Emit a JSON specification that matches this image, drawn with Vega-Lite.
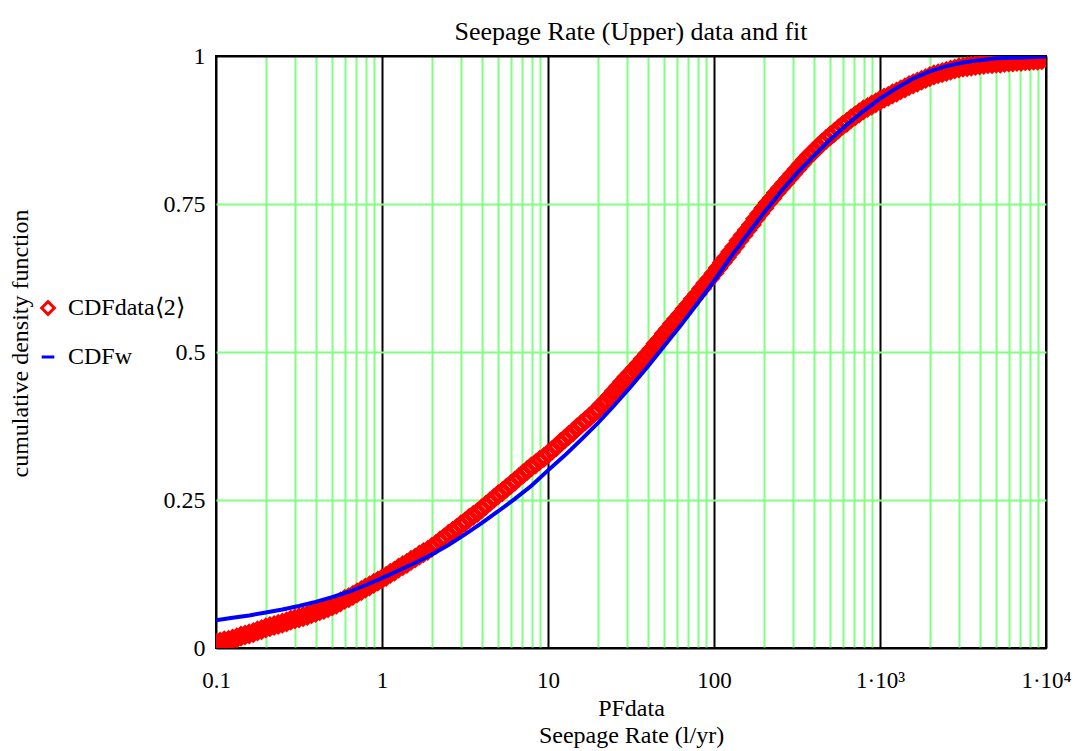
{
  "$schema": "https://vega.github.io/schema/vega-lite/v6.json",
  "width": 830,
  "height": 592,
  "autosize": "none",
  "padding": {"left": 216, "top": 56, "right": 32, "bottom": 103},
  "background": "white",
  "title": {"text": "Seepage Rate (Upper) data and fit", "font": "Liberation Serif", "fontSize": 26, "fontWeight": "normal", "color": "black", "offset": -1, "anchor": "middle", "frame": "group"},
  "config": {"view": {"stroke": "black", "strokeWidth": 2}, "font": "Liberation Serif"},
  "datasets": {
    "red": [
      {"x":0.1,"y":0.008},{"x":0.1059,"y":0.010},{"x":0.1122,"y":0.012},{"x":0.1189,"y":0.013},{"x":0.1259,"y":0.015},{"x":0.1334,"y":0.017},{"x":0.1413,"y":0.020},{"x":0.1496,"y":0.022},{"x":0.1585,"y":0.024},{"x":0.1679,"y":0.026},
      {"x":0.1778,"y":0.029},{"x":0.1884,"y":0.031},{"x":0.1995,"y":0.034},{"x":0.2113,"y":0.036},{"x":0.2239,"y":0.038},{"x":0.2371,"y":0.040},{"x":0.2512,"y":0.042},{"x":0.2661,"y":0.044},{"x":0.2818,"y":0.047},{"x":0.2985,"y":0.049},
      {"x":0.3162,"y":0.051},{"x":0.335,"y":0.053},{"x":0.3548,"y":0.055},{"x":0.3758,"y":0.058},{"x":0.3981,"y":0.060},{"x":0.4217,"y":0.063},{"x":0.4467,"y":0.065},{"x":0.4732,"y":0.068},{"x":0.5012,"y":0.071},{"x":0.5309,"y":0.074},
      {"x":0.5623,"y":0.078},{"x":0.5957,"y":0.082},{"x":0.631,"y":0.085},{"x":0.6683,"y":0.089},{"x":0.7079,"y":0.093},{"x":0.7499,"y":0.097},{"x":0.7943,"y":0.101},{"x":0.8414,"y":0.105},{"x":0.8913,"y":0.109},{"x":0.9441,"y":0.113},
      {"x":1,"y":0.117},{"x":1.059,"y":0.121},{"x":1.122,"y":0.126},{"x":1.189,"y":0.130},{"x":1.259,"y":0.135},{"x":1.334,"y":0.139},{"x":1.413,"y":0.143},{"x":1.496,"y":0.148},{"x":1.585,"y":0.152},{"x":1.679,"y":0.157},
      {"x":1.778,"y":0.161},{"x":1.884,"y":0.165},{"x":1.995,"y":0.170},{"x":2.113,"y":0.175},{"x":2.239,"y":0.181},{"x":2.371,"y":0.186},{"x":2.512,"y":0.192},{"x":2.661,"y":0.197},{"x":2.818,"y":0.202},{"x":2.985,"y":0.208},
      {"x":3.162,"y":0.213},{"x":3.35,"y":0.219},{"x":3.548,"y":0.224},{"x":3.758,"y":0.229},{"x":3.981,"y":0.235},{"x":4.217,"y":0.241},{"x":4.467,"y":0.247},{"x":4.732,"y":0.253},{"x":5.012,"y":0.259},{"x":5.309,"y":0.264},
      {"x":5.623,"y":0.270},{"x":5.957,"y":0.276},{"x":6.31,"y":0.282},{"x":6.683,"y":0.288},{"x":7.079,"y":0.294},{"x":7.499,"y":0.300},{"x":7.943,"y":0.306},{"x":8.414,"y":0.311},{"x":8.913,"y":0.317},{"x":9.441,"y":0.322},
      {"x":10,"y":0.328},{"x":10.59,"y":0.334},{"x":11.22,"y":0.340},{"x":11.89,"y":0.347},{"x":12.59,"y":0.353},{"x":13.34,"y":0.359},{"x":14.13,"y":0.365},{"x":14.96,"y":0.372},{"x":15.85,"y":0.378},{"x":16.79,"y":0.384},
      {"x":17.78,"y":0.390},{"x":18.84,"y":0.397},{"x":19.95,"y":0.403},{"x":21.13,"y":0.411},{"x":22.39,"y":0.418},{"x":23.71,"y":0.426},{"x":25.12,"y":0.434},{"x":26.61,"y":0.442},{"x":28.18,"y":0.450},{"x":29.85,"y":0.458},
      {"x":31.62,"y":0.465},{"x":33.5,"y":0.473},{"x":35.48,"y":0.481},{"x":37.58,"y":0.489},{"x":39.81,"y":0.497},{"x":42.17,"y":0.505},{"x":44.67,"y":0.514},{"x":47.32,"y":0.522},{"x":50.12,"y":0.531},{"x":53.09,"y":0.539},
      {"x":56.23,"y":0.548},{"x":59.57,"y":0.556},{"x":63.1,"y":0.564},{"x":66.83,"y":0.573},{"x":70.79,"y":0.581},{"x":74.99,"y":0.590},{"x":79.43,"y":0.598},{"x":84.14,"y":0.607},{"x":89.13,"y":0.616},{"x":94.41,"y":0.624},
      {"x":100,"y":0.633},{"x":105.9,"y":0.642},{"x":112.2,"y":0.651},{"x":118.9,"y":0.660},{"x":125.9,"y":0.669},{"x":133.4,"y":0.678},{"x":141.3,"y":0.688},{"x":149.6,"y":0.697},{"x":158.5,"y":0.706},{"x":167.9,"y":0.715},
      {"x":177.8,"y":0.725},{"x":188.4,"y":0.734},{"x":199.5,"y":0.743},{"x":211.3,"y":0.752},{"x":223.9,"y":0.760},{"x":237.1,"y":0.769},{"x":251.2,"y":0.777},{"x":266.1,"y":0.785},{"x":281.8,"y":0.793},{"x":298.5,"y":0.801},
      {"x":316.2,"y":0.809},{"x":335,"y":0.817},{"x":354.8,"y":0.825},{"x":375.8,"y":0.832},{"x":398.1,"y":0.839},{"x":421.7,"y":0.846},{"x":446.7,"y":0.853},{"x":473.2,"y":0.859},{"x":501.2,"y":0.865},{"x":530.9,"y":0.871},
      {"x":562.3,"y":0.877},{"x":595.7,"y":0.883},{"x":631,"y":0.888},{"x":668.3,"y":0.894},{"x":707.9,"y":0.899},{"x":749.9,"y":0.904},{"x":794.3,"y":0.909},{"x":841.4,"y":0.913},{"x":891.3,"y":0.917},{"x":944.1,"y":0.921},
      {"x":1000,"y":0.925},{"x":1059,"y":0.929},{"x":1122,"y":0.932},{"x":1189,"y":0.936},{"x":1259,"y":0.939},{"x":1334,"y":0.943},{"x":1413,"y":0.946},{"x":1496,"y":0.950},{"x":1585,"y":0.953},{"x":1679,"y":0.956},
      {"x":1778,"y":0.959},{"x":1884,"y":0.962},{"x":1995,"y":0.965},{"x":2113,"y":0.968},{"x":2239,"y":0.970},{"x":2371,"y":0.972},{"x":2512,"y":0.974},{"x":2661,"y":0.976},{"x":2818,"y":0.978},{"x":2985,"y":0.980},
      {"x":3162,"y":0.981},{"x":3350,"y":0.982},{"x":3548,"y":0.983},{"x":3758,"y":0.984},{"x":3981,"y":0.985},{"x":4217,"y":0.986},{"x":4467,"y":0.987},{"x":4732,"y":0.987},{"x":5012,"y":0.988},{"x":5309,"y":0.988},
      {"x":5623,"y":0.989},{"x":5957,"y":0.990},{"x":6310,"y":0.990},{"x":6683,"y":0.991},{"x":7079,"y":0.991},{"x":7499,"y":0.992},{"x":7943,"y":0.992},{"x":8414,"y":0.993},{"x":8913,"y":0.993},{"x":9441,"y":0.994},
      {"x":10000,"y":0.997}
    ],
    "blue": [
      {"x":0.1,"y":0.047},{"x":0.1259,"y":0.051},{"x":0.1585,"y":0.055},{"x":0.1995,"y":0.060},{"x":0.2512,"y":0.065},{"x":0.3162,"y":0.071},{"x":0.3981,"y":0.078},{"x":0.5012,"y":0.086},{"x":0.631,"y":0.095},{"x":0.7943,"y":0.106},
      {"x":1,"y":0.118},{"x":1.259,"y":0.131},{"x":1.585,"y":0.144},{"x":1.995,"y":0.158},{"x":2.512,"y":0.174},{"x":3.162,"y":0.192},{"x":3.981,"y":0.211},{"x":5.012,"y":0.231},{"x":6.31,"y":0.252},{"x":7.943,"y":0.274},
      {"x":10,"y":0.300},{"x":12.59,"y":0.325},{"x":15.85,"y":0.352},{"x":19.95,"y":0.380},{"x":25.12,"y":0.410},{"x":31.62,"y":0.442},{"x":39.81,"y":0.475},{"x":50.12,"y":0.510},{"x":63.1,"y":0.545},{"x":79.43,"y":0.582},
      {"x":100,"y":0.620},{"x":125.9,"y":0.660},{"x":158.5,"y":0.698},{"x":199.5,"y":0.735},{"x":251.2,"y":0.770},{"x":316.2,"y":0.802},{"x":398.1,"y":0.831},{"x":501.2,"y":0.859},{"x":631,"y":0.884},{"x":794.3,"y":0.907},
      {"x":1000,"y":0.928},{"x":1259,"y":0.946},{"x":1585,"y":0.962},{"x":1995,"y":0.974},{"x":2512,"y":0.983},{"x":3162,"y":0.989},{"x":3981,"y":0.993},{"x":5012,"y":0.996},{"x":6310,"y":0.997},{"x":7943,"y":0.998},
      {"x":10000,"y":0.999}
    ]
  },
  "encoding": {
    "x": {
      "field": "x", "type": "quantitative",
      "scale": {"type": "log", "domain": [0.1, 10000], "nice": false},
      "axis": {
        "values": [0.1,0.2,0.3,0.4,0.5,0.6,0.7,0.8,0.9,1,2,3,4,5,6,7,8,9,10,20,30,40,50,60,70,80,90,100,200,300,400,500,600,700,800,900,1000,2000,3000,4000,5000,6000,7000,8000,9000,10000],
        "labelExpr": "datum.value == 0.1 ? '0.1' : datum.value == 1 ? '1' : datum.value == 10 ? '10' : datum.value == 100 ? '100' : datum.value == 1000 ? '1·10³' : datum.value == 10000 ? '1·10⁴' : ''",
        "grid": true,
        "gridColor": {"condition": {"test": "indexof([0.1,1,10,100,1000,10000], datum.value) >= 0", "value": "black"}, "value": "#80ff80"},
        "gridWidth": 2,
        "gridOpacity": 1,
        "ticks": false,
        "domain": false,
        "labelFont": "Liberation Serif", "labelFontSize": 23, "labelColor": "black",
        "labelPadding": 21, "labelOverlap": false, "labelFlush": false, "labelBound": false,
        "title": ["PFdata", "Seepage Rate (l/yr)"],
        "titleFont": "Liberation Serif", "titleFontSize": 24, "titleFontWeight": "normal", "titleColor": "black",
        "titlePadding": 4, "titleLineHeight": 27
      }
    },
    "y": {
      "field": "y", "type": "quantitative",
      "scale": {"domain": [0, 1], "nice": false},
      "axis": {
        "values": [0, 0.25, 0.5, 0.75, 1],
        "labelExpr": "format(datum.value, '~g')",
        "grid": true,
        "gridColor": {"condition": {"test": "datum.value == 0 || datum.value == 1", "value": "black"}, "value": "#80ff80"},
        "gridWidth": 2,
        "gridOpacity": 1,
        "ticks": false,
        "domain": false,
        "labelFont": "Liberation Serif", "labelFontSize": 24, "labelColor": "black",
        "labelPadding": 11, "labelOverlap": false, "labelFlush": false, "labelBound": false,
        "title": "cumulative density function",
        "titleFont": "Liberation Serif", "titleFontSize": 24, "titleFontWeight": "normal", "titleColor": "black",
        "titlePadding": 131, "titleY": 287
      }
    }
  },
  "layer": [
    {
      "data": {"name": "red"},
      "mark": {"type": "point", "shape": "diamond", "filled": false, "size": 220, "strokeWidth": 4.5, "opacity": 1, "clip": true},
      "encoding": {
        "color": {
          "datum": "CDFdata⟨2⟩", "type": "nominal",
          "scale": {"domain": ["CDFdata⟨2⟩", "CDFw"], "range": ["#ff0000", "#0000ff"]},
          "legend": {
            "title": null, "orient": "none", "legendX": -180, "legendY": 240,
            "labelFont": "Liberation Serif", "labelFontSize": 24, "labelColor": "black",
            "symbolSize": 160, "symbolStrokeWidth": 3, "rowPadding": 24, "labelOffset": 8
          }
        },
        "shape": {
          "datum": "CDFdata⟨2⟩", "type": "nominal",
          "scale": {"domain": ["CDFdata⟨2⟩", "CDFw"], "range": ["diamond", "stroke"]}
        }
      }
    },
    {
      "data": {"name": "blue"},
      "mark": {"type": "line", "strokeWidth": 4, "clip": true},
      "encoding": {
        "color": {"datum": "CDFw", "type": "nominal"}
      }
    }
  ]
}
